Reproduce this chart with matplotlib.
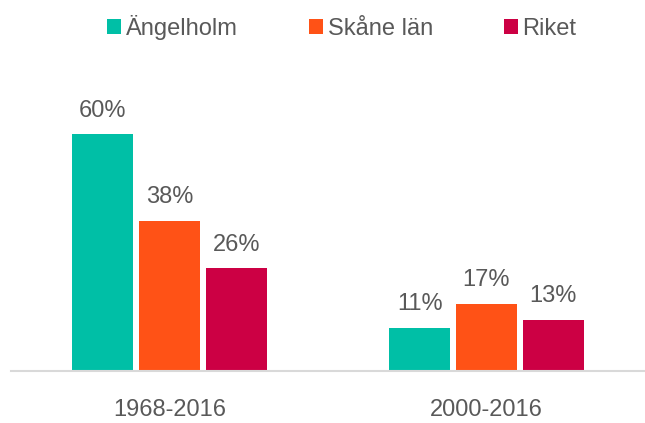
import numpy as np
import matplotlib.pyplot as plt

plt.rcParams['font.family'] = ['Liberation Sans', 'DejaVu Sans']

periods = ['1968-2016', '2000-2016']
series = ['Ängelholm', 'Skåne län', 'Riket']
values = {
    'Ängelholm': [60, 11],
    'Skåne län': [38, 17],
    'Riket': [26, 13],
}
colors = ['#00BFA6', '#FF5216', '#CC0044']
text_color = '#595959'

fig = plt.figure(figsize=(6.45, 4.23), dpi=100)
ax = fig.add_axes([11 / 645, 52 / 423, 634 / 645, 276.5 / 423])

x = np.arange(len(periods))
step = 0.211
width = 0.193
for i, name in enumerate(series):
    pos = x + (i - 1) * step
    bars = ax.bar(pos, values[name], width, color=colors[i], label=name)
    for b, v in zip(bars, values[name]):
        ax.annotate(f'{v}%', (b.get_x() + b.get_width() / 2, v),
                    xytext=(0, 9), textcoords='offset points',
                    ha='center', va='bottom', fontsize=17, color=text_color)

ax.set_xlim(-0.5, 1.5)
ax.set_ylim(0, 70)
ax.set_xticks(x)
ax.set_xticklabels(periods, fontsize=17, color=text_color)
ax.tick_params(axis='x', length=0, pad=20)
ax.set_yticks([])
for s in ['top', 'right', 'left']:
    ax.spines[s].set_visible(False)
ax.spines['bottom'].set_color('#D9D9D9')
ax.spines['bottom'].set_linewidth(1.5)

fig.legend(loc='upper center', bbox_to_anchor=(0.53, 1.015), ncol=3, frameon=False,
           fontsize=17, handlelength=0.6, handleheight=0.6, handletextpad=0.2,
           columnspacing=3.0, labelcolor=text_color)

fig.savefig('out.png', dpi=100)
